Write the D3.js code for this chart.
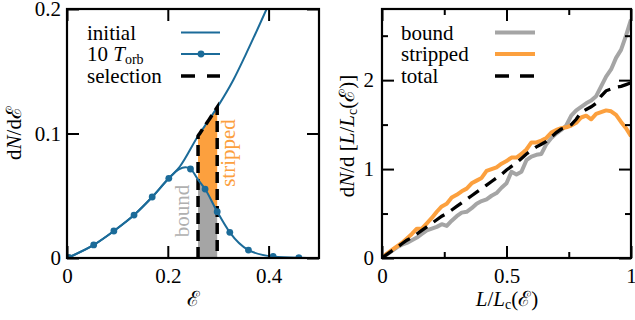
<!DOCTYPE html>
<meta charset="utf-8">
<style>
body { margin: 0; background: #fff; }
text { font-family: 'Liberation Serif', 'DejaVu Serif', serif; }
</style>
<body>
<script src="https://d3js.org/d3.v7.min.js"></script>
<script>

// ---- left panel data: energy distribution
var initEps = [0, 0.053, 0.093, 0.133, 0.169, 0.202, 0.224, 0.26, 0.28, 0.298, 0.33, 0.353, 0.396, 0.42];
var initVal = [0, 0.0105, 0.0217, 0.0345, 0.049, 0.064, 0.0735, 0.098, 0.11, 0.121, 0.143, 0.162, 0.2, 0.222];

var evolEps = [0.004, 0.053, 0.093, 0.133, 0.169, 0.202, 0.222, 0.235, 0.245, 0.26, 0.274, 0.298, 0.323, 0.36, 0.409, 0.46, 0.5];
var evolVal = [0.0005, 0.0105, 0.0217, 0.0345, 0.049, 0.064, 0.0712, 0.0728, 0.0715, 0.063, 0.0554, 0.0372, 0.0206, 0.0064, 0.0012, 0.0002, 0];
var markerIdx = [0, 1, 2, 3, 4, 5, 8, 10, 11, 12, 13, 14, 15];

var selection = [0.26, 0.298];

var epsTicks = [0, 0.2, 0.4],   epsTickLabels = ["0", "0.2", "0.4"];
var dnTicks = [0, 0.1, 0.2],    dnTickLabels = ["0", "0.1", "0.2"];

// ---- right panel data: angular momentum distribution
var lBins = d3.range(0, 51).map(function(i) { return i / 50; });
var boundVal = [0, 0.04, 0.08, 0.12, 0.15, 0.17, 0.20, 0.23, 0.27, 0.31, 0.33, 0.35, 0.38, 0.36, 0.42, 0.47, 0.51, 0.52, 0.56, 0.61,
                0.64, 0.66, 0.70, 0.73, 0.79, 0.84, 0.97, 0.94, 0.97, 1.10, 1.14, 1.16, 1.17, 1.28, 1.35, 1.40, 1.44, 1.49, 1.60, 1.66,
                1.70, 1.74, 1.77, 1.82, 1.93, 2.04, 2.12, 2.25, 2.34, 2.50, 2.68];
var strippedVal = [0, 0.05, 0.09, 0.13, 0.17, 0.22, 0.27, 0.33, 0.33, 0.39, 0.45, 0.52, 0.58, 0.61, 0.68, 0.71, 0.75, 0.78, 0.84, 0.87,
                   0.90, 0.98, 1.00, 1.02, 1.06, 1.09, 1.13, 1.13, 1.17, 1.22, 1.30, 1.30, 1.32, 1.35, 1.41, 1.44, 1.46, 1.47, 1.49, 1.52,
                   1.58, 1.60, 1.56, 1.62, 1.64, 1.66, 1.65, 1.61, 1.53, 1.46, 1.37];
var totalVal = [0, 0.04, 0.08, 0.12, 0.16, 0.20, 0.23, 0.27, 0.31, 0.35, 0.39, 0.43, 0.47, 0.50, 0.54, 0.58, 0.62, 0.66, 0.70, 0.74,
                0.78, 0.82, 0.86, 0.90, 0.94, 0.99, 1.03, 1.07, 1.12, 1.17, 1.21, 1.25, 1.28, 1.31, 1.36, 1.41, 1.45, 1.47, 1.50, 1.56,
                1.64, 1.67, 1.70, 1.74, 1.82, 1.88, 1.90, 1.92, 1.93, 1.95, 1.97];

var lMajor = [0, 0.5, 1],  lMajorLabels = ["0", "0.5", "1"];
var lMinor = [0.25, 0.75];
var nMajor = [0, 1, 2],    nMajorLabels = ["0", "1", "2"];
var nMinor = [0.5, 1.5, 2.5];

var blue = "#1b6b99", grey = "#a5a5a5", orange = "#fca03e";
var fs = 21, fsSub = 14;

var svg = d3.select("body").append("svg")
    .attr("width", 635)
    .attr("height", 320);

var yTop = 9, yBottom = 258;

function interp(xs, ys, x) {
    for (var i = 1; i < xs.length; i++) {
        if (x <= xs[i]) {
            var t = (x - xs[i - 1]) / (xs[i] - xs[i - 1]);
            return ys[i - 1] + t * (ys[i] - ys[i - 1]);
        }
    }
    return ys[ys.length - 1];
}

// ticks pointing inward on all four sides, frame on top
function frame(g, x, y, xMaj, xLab, xMin, yMaj, yLab, yMin, yPad) {
    var h = yBottom - yTop, w = x.range()[1] - x.range()[0];
    function style(a) {
        a.select(".domain").remove();
        a.selectAll("line").attr("stroke-width", 2);
        a.attr("font-family", null).attr("font-size", fs);
        a.selectAll("text").attr("fill", "#000");
    }
    g.append("g").attr("transform", "translate(0," + yBottom + ")")
        .call(d3.axisBottom(x).tickValues(xMaj).tickSize(-12).tickPadding(10)
            .tickFormat(function(d, i) { return xLab[i]; })).call(style);
    g.append("g").attr("transform", "translate(0," + yTop + ")")
        .call(d3.axisTop(x).tickValues(xMaj).tickSize(-12).tickFormat("")).call(style);
    g.append("g").attr("transform", "translate(" + x.range()[0] + ",0)")
        .call(d3.axisLeft(y).tickValues(yMaj).tickSize(-12).tickPadding(yPad)
            .tickFormat(function(d, i) { return yLab[i]; })).call(style);
    g.append("g").attr("transform", "translate(" + x.range()[1] + ",0)")
        .call(d3.axisRight(y).tickValues(yMaj).tickSize(-12).tickFormat("")).call(style);
    if (xMin) {
        g.append("g").attr("transform", "translate(0," + yBottom + ")")
            .call(d3.axisBottom(x).tickValues(xMin).tickSize(-6).tickFormat("")).call(style);
        g.append("g").attr("transform", "translate(0," + yTop + ")")
            .call(d3.axisTop(x).tickValues(xMin).tickSize(-6).tickFormat("")).call(style);
    }
    if (yMin) {
        g.append("g").attr("transform", "translate(" + x.range()[0] + ",0)")
            .call(d3.axisLeft(y).tickValues(yMin).tickSize(-6).tickFormat("")).call(style);
        g.append("g").attr("transform", "translate(" + x.range()[1] + ",0)")
            .call(d3.axisRight(y).tickValues(yMin).tickSize(-6).tickFormat("")).call(style);
    }
    g.append("rect")
        .attr("x", x.range()[0]).attr("y", yTop)
        .attr("width", w).attr("height", h)
        .attr("fill", "none").attr("stroke", "#000").attr("stroke-width", 2.2);
}

function clip(id, x) {
    svg.append("clipPath").attr("id", id).append("rect")
        .attr("x", x.range()[0]).attr("y", yTop)
        .attr("width", x.range()[1] - x.range()[0]).attr("height", yBottom - yTop);
}

// ================= left panel =================
var x1 = d3.scaleLinear().domain([0, 0.5]).range([67, 319]);
var y1 = d3.scaleLinear().domain([0, 0.2]).range([yBottom, yTop]);
clip("clipL", x1);

var gl = svg.append("g");
var pl = gl.append("g").attr("clip-path", "url(#clipL)");

var grid = d3.range(0, 21).map(function(i) { return selection[0] + i * (selection[1] - selection[0]) / 20; });

pl.append("path")
    .datum(grid)
    .attr("fill", grey)
    .attr("d", d3.area()
        .x(function(d) { return x1(d); })
        .y0(y1(0))
        .y1(function(d) { return y1(interp(evolEps, evolVal, d)); }));

pl.append("path")
    .datum(grid)
    .attr("fill", orange)
    .attr("d", d3.area()
        .x(function(d) { return x1(d); })
        .y0(function(d) { return y1(interp(evolEps, evolVal, d)); })
        .y1(function(d) { return y1(interp(initEps, initVal, d)); }));

pl.append("path")
    .datum(initEps.map(function(d, i) { return [d, initVal[i]]; }))
    .attr("fill", "none")
    .attr("stroke", blue)
    .attr("stroke-width", 2)
    .attr("d", d3.line()
        .x(function(d) { return x1(d[0]); })
        .y(function(d) { return y1(d[1]); })
        .curve(d3.curveMonotoneX));

// selection outline
var outline = [[selection[0], 0]].concat(grid.map(function(d) { return [d, interp(initEps, initVal, d)]; }), [[selection[1], 0]]);
pl.append("path")
    .datum(outline)
    .attr("fill", "none")
    .attr("stroke", "#000")
    .attr("stroke-width", 3.5)
    .attr("stroke-dasharray", "11,6")
    .attr("d", d3.line()
        .x(function(d) { return x1(d[0]); })
        .y(function(d) { return y1(d[1]); }));

pl.append("path")
    .datum(evolEps.map(function(d, i) { return [d, evolVal[i]]; }))
    .attr("fill", "none")
    .attr("stroke", blue)
    .attr("stroke-width", 2)
    .attr("d", d3.line()
        .x(function(d) { return x1(d[0]); })
        .y(function(d) { return y1(d[1]); })
        .curve(d3.curveMonotoneX));

pl.selectAll(".marker")
    .data(markerIdx)
    .enter()
    .append("circle")
    .attr("class", "marker")
    .attr("cx", function(i) { return x1(evolEps[i]); })
    .attr("cy", function(i) { return y1(evolVal[i]); })
    .attr("r", 3.4)
    .attr("fill", blue);

// region labels
gl.append("text")
    .attr("transform", "translate(189,211) rotate(-90)")
    .attr("text-anchor", "middle")
    .attr("font-size", fs)
    .attr("fill", "#b0b0b0")
    .text("bound");
gl.append("text")
    .attr("transform", "translate(235,153) rotate(-90)")
    .attr("text-anchor", "middle")
    .attr("font-size", fs)
    .attr("fill", orange)
    .text("stripped");

frame(gl, x1, y1, epsTicks, epsTickLabels, null, dnTicks, dnTickLabels, null, 6);

// axis labels
gl.append("text")
    .attr("x", 193).attr("y", 306)
    .attr("text-anchor", "middle")
    .attr("font-size", fs)
    .text("ℰ");

var yl1 = gl.append("text")
    .attr("transform", "translate(21,133) rotate(-90)")
    .attr("text-anchor", "middle")
    .attr("font-size", fs);
yl1.append("tspan").text("d");
yl1.append("tspan").attr("font-style", "italic").text("N");
yl1.append("tspan").text("/dℰ");

// legend
var leg1 = gl.append("g");
var legY = [32.5, 54, 76];
leg1.append("text").attr("x", 87).attr("y", legY[0] + 7).attr("font-size", fs).text("initial");
var t2 = leg1.append("text").attr("x", 87).attr("y", legY[1] + 7).attr("font-size", fs);
t2.append("tspan").text("10 ");
t2.append("tspan").attr("font-style", "italic").text("T");
t2.append("tspan").attr("font-size", fsSub).attr("dy", 3).text("orb");
leg1.append("text").attr("x", 87).attr("y", legY[2] + 7).attr("font-size", fs).text("selection");

leg1.append("line").attr("x1", 181).attr("x2", 220).attr("y1", legY[0]).attr("y2", legY[0])
    .attr("stroke", blue).attr("stroke-width", 2);
leg1.append("line").attr("x1", 181).attr("x2", 220).attr("y1", legY[1]).attr("y2", legY[1])
    .attr("stroke", blue).attr("stroke-width", 2);
leg1.append("circle").attr("cx", 201).attr("cy", legY[1]).attr("r", 3.4).attr("fill", blue);
leg1.append("line").attr("x1", 181).attr("x2", 220).attr("y1", legY[2]).attr("y2", legY[2])
    .attr("stroke", "#000").attr("stroke-width", 3.5).attr("stroke-dasharray", "14,12");

// ================= right panel =================
var x2 = d3.scaleLinear().domain([0, 1]).range([382, 631]);
var y2 = d3.scaleLinear().domain([0, 2.8]).range([yBottom, yTop]);
clip("clipR", x2);

var gr = svg.append("g");
var pr = gr.append("g").attr("clip-path", "url(#clipR)");

var line2 = d3.line()
    .x(function(d, i) { return x2(lBins[i]); })
    .y(function(d) { return y2(d); });

pr.append("path").datum(boundVal)
    .attr("fill", "none").attr("stroke", grey).attr("stroke-width", 4)
    .attr("stroke-linejoin", "round")
    .attr("d", line2);
pr.append("path").datum(strippedVal)
    .attr("fill", "none").attr("stroke", orange).attr("stroke-width", 4)
    .attr("stroke-linejoin", "round")
    .attr("d", line2);
pr.append("path").datum(totalVal)
    .attr("fill", "none").attr("stroke", "#000").attr("stroke-width", 3.3)
    .attr("stroke-dasharray", "13,8")
    .attr("d", line2);

frame(gr, x2, y2, lMajor, lMajorLabels, lMinor, nMajor, nMajorLabels, nMinor, 8);

var xl2 = gr.append("text")
    .attr("x", 507).attr("y", 306)
    .attr("text-anchor", "middle")
    .attr("font-size", fs);
xl2.append("tspan").attr("font-style", "italic").text("L");
xl2.append("tspan").text("/");
xl2.append("tspan").attr("font-style", "italic").text("L");
xl2.append("tspan").attr("font-size", fsSub).attr("dy", 3).text("c");
xl2.append("tspan").attr("dy", -3).text("(ℰ)");

var yl2 = gr.append("text")
    .attr("transform", "translate(354,136) rotate(-90)")
    .attr("text-anchor", "middle")
    .attr("font-size", fs);
yl2.append("tspan").text("d");
yl2.append("tspan").attr("font-style", "italic").text("N");
yl2.append("tspan").text("/d [");
yl2.append("tspan").attr("font-style", "italic").text("L");
yl2.append("tspan").text("/");
yl2.append("tspan").attr("font-style", "italic").text("L");
yl2.append("tspan").attr("font-size", fsSub).attr("dy", 3).text("c");
yl2.append("tspan").attr("dy", -3).text("(ℰ)]");

var leg2 = gr.append("g");
var legNames = ["bound", "stripped", "total"];
leg2.selectAll(".lt")
    .data(legNames)
    .enter()
    .append("text")
    .attr("class", "lt")
    .attr("x", 401)
    .attr("y", function(d, i) { return legY[i] + 7; })
    .attr("font-size", fs)
    .text(function(d) { return d; });
leg2.append("line").attr("x1", 495).attr("x2", 535).attr("y1", legY[0]).attr("y2", legY[0])
    .attr("stroke", grey).attr("stroke-width", 4);
leg2.append("line").attr("x1", 495).attr("x2", 535).attr("y1", legY[1]).attr("y2", legY[1])
    .attr("stroke", orange).attr("stroke-width", 4);
leg2.append("line").attr("x1", 495).attr("x2", 535).attr("y1", legY[2]).attr("y2", legY[2])
    .attr("stroke", "#000").attr("stroke-width", 3.3).attr("stroke-dasharray", "14,11");

</script>
</body>
